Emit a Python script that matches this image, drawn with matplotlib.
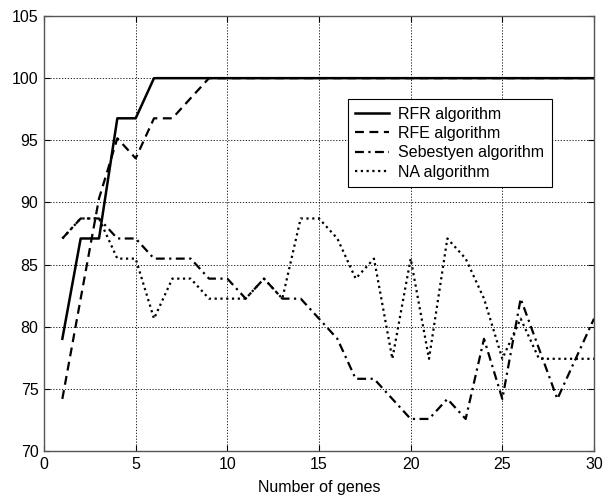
import matplotlib.pyplot as plt

plt.rcParams['font.family'] = ['Liberation Sans', 'DejaVu Sans']

# number of genes
genes = list(range(1, 31))

# accuracy (%) per algorithm
rfr = [79.03, 87.10, 87.10, 96.77, 96.77, 100, 100, 100, 100, 100,
       100, 100, 100, 100, 100, 100, 100, 100, 100, 100,
       100, 100, 100, 100, 100, 100, 100, 100, 100, 100]
rfe = [74.19, 82.26, 90.32, 95.16, 93.55, 96.77, 96.77, 98.39, 100, 100,
       100, 100, 100, 100, 100, 100, 100, 100, 100, 100,
       100, 100, 100, 100, 100, 100, 100, 100, 100, 100]
sebestyen = [87.10, 88.71, 88.71, 87.10, 87.10, 85.48, 85.48, 85.48, 83.87, 83.87,
             82.26, 83.87, 82.26, 82.26, 80.65, 79.03, 75.81, 75.81, 74.19, 72.58,
             72.58, 74.19, 72.58, 79.03, 74.19, 82.26, 78.23, 74.19, 77.42, 80.65]
na = [87.10, 88.71, 88.71, 85.48, 85.48, 80.65, 83.87, 83.87, 82.26, 82.26,
      82.26, 83.87, 82.26, 88.71, 88.71, 87.10, 83.87, 85.48, 77.42, 85.48,
      77.42, 87.10, 85.48, 82.26, 77.42, 80.65, 77.42, 77.42, 77.42, 77.42]

fig = plt.figure(figsize=(6.07, 4.96), dpi=100)
ax = fig.add_axes([0.0725, 0.0907, 0.9061, 0.877])

ax.plot(genes, rfr, color='black', linewidth=1.8, linestyle='-', label='RFR algorithm')
ax.plot(genes, rfe, color='black', linewidth=1.6, linestyle=(0, (4, 2.5)), label='RFE algorithm')
ax.plot(genes, sebestyen, color='black', linewidth=1.6, linestyle=(0, (4, 2, 1, 2)),
        label='Sebestyen algorithm')
ax.plot(genes, na, color='black', linewidth=1.6, linestyle=(0, (1, 1.6)), label='NA algorithm')

ax.set_xlim(0, 30)
ax.set_ylim(70, 105)
ax.set_xticks(range(0, 31, 5))
ax.set_yticks(range(70, 106, 5))
ax.tick_params(direction='in', top=True, right=True, labelsize=11.5, length=4, pad=4)
ax.grid(True, color='black', linestyle=(0, (1.5, 2)), linewidth=0.6)
for s in ax.spines.values():
    s.set_color('#555555')
    s.set_linewidth(1.0)

ax.set_xlabel('Number of genes', fontsize=11.5, labelpad=6)

leg = ax.legend(loc='upper left', bbox_to_anchor=(0.553, 0.8085), fontsize=11.5,
                fancybox=False, framealpha=1, edgecolor='black', handlelength=2.1,
                handletextpad=0.6, borderpad=0.45, labelspacing=0.28, borderaxespad=0)
leg.get_frame().set_linewidth(0.8)

fig.savefig('out.png', dpi=100)
